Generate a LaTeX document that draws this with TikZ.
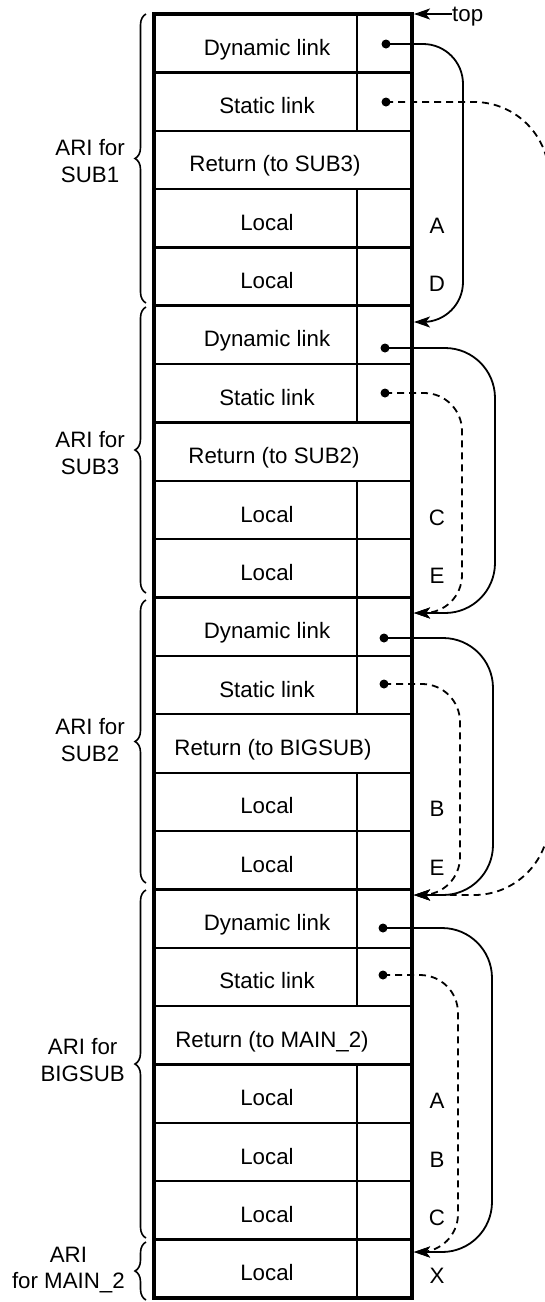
\documentclass[tikz,border=0pt]{standalone}
\usepackage{fontspec}
\setmainfont{Liberation Sans}
\usetikzlibrary{arrows.meta,decorations.pathreplacing}
\begin{document}
\begin{tikzpicture}[x=1pt,y=-1pt,
  txt/.style={font=\fontsize{22.3}{26.5}\selectfont, inner sep=0pt},
  dotnode/.style={circle, fill, inner sep=0pt, minimum size=9pt},
  conn/.style={line width=1.8pt, -{Stealth[length=16pt,width=11pt,inset=4pt]}},
  dconn/.style={conn, dash pattern=on 7pt off 5pt},
  thinline/.style={line width=2.3pt},
  thickline/.style={line width=3.3pt},
  bracestyle/.style={decorate, decoration={brace, amplitude=11pt}, line width=1.6pt},
  ari/.style={txt, align=center, anchor=east}
]
\useasboundingbox (0,0) rectangle (544,1302);
% grid
\foreach \i in {0,...,22} \draw[thinline] (154,{14+\i*58.36}) -- (412,{14+\i*58.36});
\foreach \i in {0,1,3,4,5,6,8,9,10,11,13,14,15,16,18,19,20,21}
  \draw[thinline] (357,{14+\i*58.36}) -- (357,{14+(\i+1)*58.36});
\draw[thickline] (154,14) rectangle (412,1297.92);
\foreach \i in {5,10,15,21} \draw[thickline] (154,{14+\i*58.36}) -- (412,{14+\i*58.36});
% cell texts
\foreach \i/\t in {0/Dynamic link,1/Static link,3/Local,4/Local,5/Dynamic link,6/Static link,8/Local,9/Local,10/Dynamic link,11/Static link,13/Local,14/Local,15/Dynamic link,16/Static link,18/Local,19/Local,20/Local,21/Local}
  \node[txt,anchor=base] (r\i) at (267,{55.18+\i*58.36}) {\t};
\node[txt,anchor=base] (r2) at (275,171.9) {Return (to SUB3)};
\node[txt,anchor=base] (r7) at (274,463.7) {Return (to SUB2)};
\node[txt,anchor=base] (r12) at (273,755.5) {Return (to BIGSUB)};
\node[txt,anchor=base] (r17) at (272,1047.3) {Return (to MAIN\_2)};
% variable names
\foreach \i/\t in {3/A,4/D,8/C,9/E,13/B,14/E,18/A,19/B,20/C,21/X}
  \node[txt,anchor=base] (v\i) at (437,{58.18+\i*58.36}) {\t};
% top pointer
\coordinate (topc) at (414,14);
\node[txt,anchor=base west] (toplbl) at (452,21) {top};
\draw[conn] (toplbl.west |- topc) -- (topc);
% dots
\node[dotnode] (dl0) at (386,44) {};
\node[dotnode] (sl0) at (386,102) {};
\node[dotnode] (dl1) at (385,348) {};
\node[dotnode] (sl1) at (385,393) {};
\node[dotnode] (dl2) at (384,638) {};
\node[dotnode] (sl2) at (384,684) {};
\node[dotnode] (dl3) at (383,928) {};
\node[dotnode] (sl3) at (383,975) {};
% targets
\coordinate (t1) at (414,322);
\coordinate (t2) at (414,613);
\coordinate (t3) at (414,895);
\coordinate (t4) at (414,1252);
% dynamic links
\draw[conn, rounded corners=40pt] (dl0.center) -| (463,200) |- (t1);
\draw[conn, rounded corners=50pt] (dl1.center) -| (495,480) |- (t2);
\draw[conn, rounded corners=50pt] (dl2.center) -| (493,760) |- (t3);
\draw[conn, rounded corners=50pt] (dl3.center) -| (492,1100) |- (t4);
% static links
\draw[dconn, rounded corners=75pt] (sl0.center) -| (549,500) |- (t3);
\draw[dconn, rounded corners=38pt] (sl1.center) -| (462,500) |- (t2);
\draw[dconn, rounded corners=38pt] (sl2.center) -| (460,780) |- (t3);
\draw[dconn, rounded corners=38pt] (sl3.center) -| (458,1100) |- (t4);
% braces
\draw[bracestyle] (146,303) -- (146,14);
\draw[bracestyle] (146,593) -- (146,307);
\draw[bracestyle] (146,883) -- (146,600);
\draw[bracestyle] (146,1238) -- (146,890);
\draw[bracestyle] (146,1300) -- (146,1242);
\node[ari] (a1) at (125,161) {ARI for\\SUB1};
\node[ari] (a2) at (125,453) {ARI for\\SUB3};
\node[ari] (a3) at (125,740) {ARI for\\SUB2};
\node[ari] (a4) at (125,1060) {ARI for\\BIGSUB};
\node[ari] (a5) at (125,1270) {ARI\\for MAIN\_2};
\end{tikzpicture}
\end{document}
